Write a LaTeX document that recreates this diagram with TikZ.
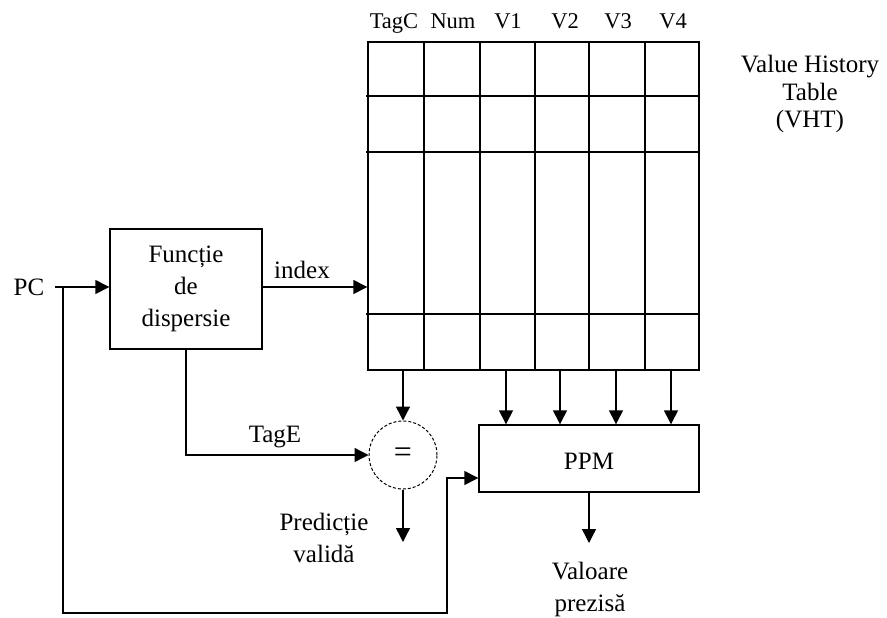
\documentclass[tikz,border=0pt]{standalone}
\usepackage{fontspec}
\setmainfont{Liberation Serif}
\usetikzlibrary{arrows.meta}
\begin{document}
\begin{tikzpicture}[x=1pt,y=-1pt,line width=1.4pt,
  arr/.style={-{Triangle[length=14pt,width=14pt]}},
  txt/.style={font=\fontsize{25}{32}\selectfont,inner sep=0pt,align=center},
  hdr/.style={font=\fontsize{22.5}{27}\selectfont,inner sep=0pt,anchor=base},
  boxst/.style={draw,line width=1.4pt,rectangle,inner sep=0pt}]
\useasboundingbox[fill=white] (0,0) rectangle (887,618);
% table
\node[boxst,minimum width=331pt,minimum height=328pt] (vht) at (533.5,206) {};
\foreach \x in {424,480,535,589,645} \draw (\x,42) -- (\x,370);
\foreach \y in {96,152,314} \draw (366,\y) -- (699,\y);
% headers
\node[hdr] (hTagC) at (394,29) {TagC};
\node[hdr] (hNum) at (453,29) {Num};
\node[hdr] (hV1) at (508,29) {V1};
\node[hdr] (hV2) at (565,29) {V2};
\node[hdr] (hV3) at (618,29) {V3};
\node[hdr] (hV4) at (673,29) {V4};
\node[txt,font=\fontsize{25}{27.5}\selectfont] (vhtlbl) at (810,94) {Value History\\Table\\(VHT)};
% function box
\node[boxst,minimum width=152pt,minimum height=120pt,txt] (fbox) at (186,289) {Funcție\\de\\dispersie};
% PC
\node[txt] (pc) at (29,287) {PC};
\coordinate (pcout) at (55,287);
\coordinate (j) at (63,287);
\draw[arr] (pcout) -- (fbox.west |- pcout);
% index
\draw[arr] (fbox.east |- pcout) -- (vht.west |- pcout);
\node[txt] (idx) at (302,270) {index};
% comparator
\node[draw,circle,line width=1pt,dash pattern=on 3pt off 2pt,minimum size=68pt,inner sep=0pt,font=\fontsize{32}{32}\selectfont] (eq) at (403,455) {=};
\draw[arr] (eq |- vht.south) -- (eq.north);
\draw[arr] (fbox.south) -- (fbox.south |- eq) -- (eq.west);
\node[txt] (tage) at (275,437) {TagE};
% PPM
\node[boxst,minimum width=220pt,minimum height=67pt] (ppm) at (589,458.5) {};
\node[txt] (ppmlbl) at (589,461) {PPM};
\foreach \x/\n in {506/1,560/2,616/3,671/4} {
  \coordinate (c\n) at (\x,370);
  \draw[arr] (c\n) -- (c\n |- ppm.north);
}
% outputs
\coordinate (pv) at (403,542);
\draw[arr] (eq.south) -- (pv);
\node[txt] (pvl) at (324,538) {Predicție\\validă};
\coordinate (vp) at (589,543);
\draw[arr] (ppm.south) -- (vp);
\node[txt] (vpl) at (590,589) {Valoare\\prezisă};
% feedback
\coordinate (b1) at (63,613);
\coordinate (b2) at (447,613);
\coordinate (b3) at (447,478);
\draw[arr] (j) -- (b1) -- (b2) -- (b3) -- (ppm.west |- b3);
\end{tikzpicture}
\end{document}
